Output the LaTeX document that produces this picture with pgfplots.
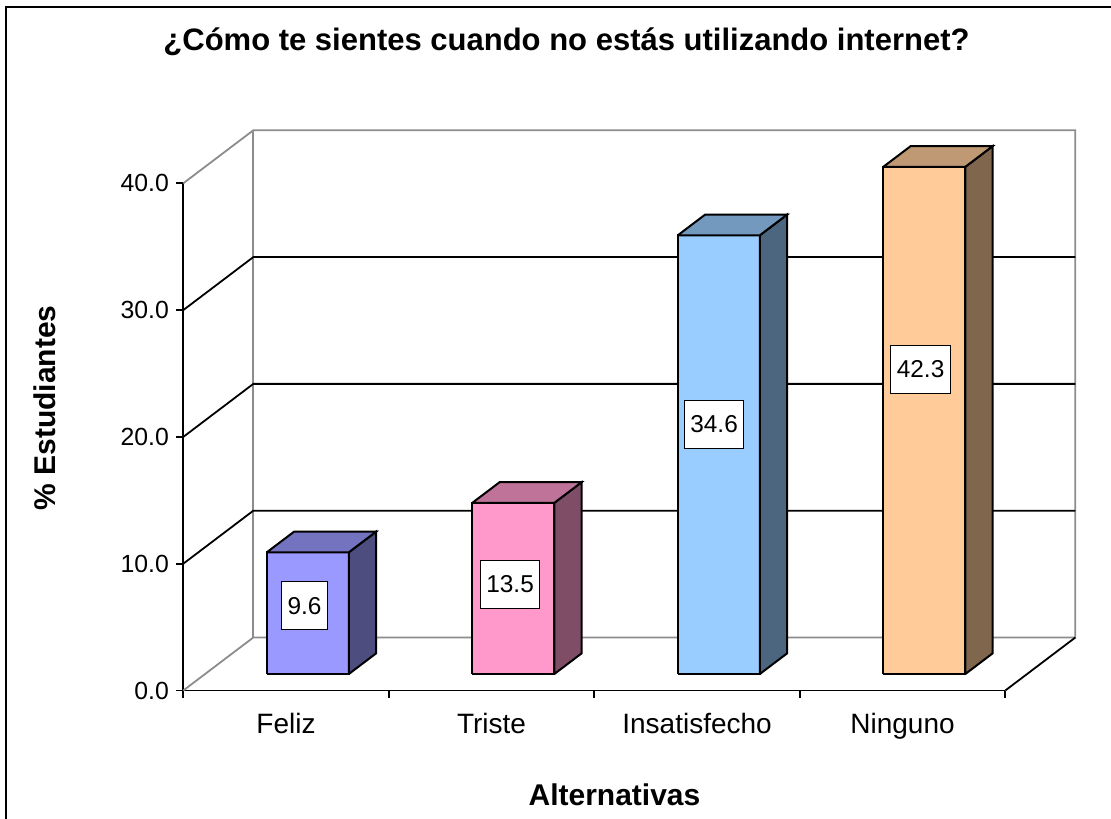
\documentclass[border=0pt]{standalone}
\usepackage{pgfplots}
\pgfplotsset{compat=1.18}
\usepackage{fontspec}
\setmainfont{Liberation Sans}
\definecolor{fF}{HTML}{9999FF}\definecolor{fT}{HTML}{7373BF}\definecolor{fS}{HTML}{4D4D80}
\definecolor{tF}{HTML}{FF99CC}\definecolor{tT}{HTML}{BF7399}\definecolor{tS}{HTML}{804D66}
\definecolor{iF}{HTML}{99CCFF}\definecolor{iT}{HTML}{7399BF}\definecolor{iS}{HTML}{4D6680}
\definecolor{nF}{HTML}{FFCC99}\definecolor{nT}{HTML}{BF9973}\definecolor{nS}{HTML}{80664D}
\definecolor{wallgray}{HTML}{8C8C8C}
\begin{document}
\begin{tikzpicture}
% front 2D axis: value axis, category labels, axis lines
\begin{axis}[
  x=0.5pt, y=6.34pt,
  xmin=0, xmax=822, ymin=0, ymax=40,
  axis lines*=left,
  axis line style={black, line width=0.9pt},
  clip=false,
  tick align=outside,
  major tick length=3.7pt,
  tick style={black, line width=0.9pt},
  /pgf/number format/assume math mode=true,
  ytick={0,10,20,30,40},
  yticklabel style={font=\fontsize{12.4}{14}\selectfont, /pgf/number format/fixed, /pgf/number format/fixed zerofill, /pgf/number format/precision=1},
  xtick={0,205.5,411,616.5,822},
  xticklabels={Feliz,Triste,Insatisfecho,Ninguno,{}},
  xticklabel style={font=\fontsize{14}{16}\selectfont, xshift=51.375pt, anchor=base, yshift=-18pt},
]
\addplot[draw=none, forget plot] coordinates {(0,0)};
\coordinate (bbSW) at (axis cs:-183.3,-10.055);
\coordinate (bbNE) at (axis cs:927.7,54.456);
\draw[line width=1.2pt] (axis cs:-177.3,-12) -- (axis cs:-177.3,53.9) -- (axis cs:940,53.9);
\node[font=\bfseries\fontsize{15.5}{17}\selectfont, anchor=base] at (axis cs:383.2,50.51) {¿Cómo te sientes cuando no estás utilizando internet?};
\node[font=\bfseries\fontsize{15}{17}\selectfont, rotate=90, anchor=center] at (axis cs:-138.3,22.28) {\% Estudiantes};
\node[font=\bfseries\fontsize{15}{17}\selectfont, anchor=base] at (axis cs:431.2,-9.03) {Alternativas};
\end{axis}
% 3D axis: walls and bars
\begin{axis}[
  x={(0.5pt,0pt)}, y={(35pt,26.5pt)}, z={(0pt,6.34pt)},
  xmin=0, xmax=822, ymin=0, ymax=1, zmin=0, zmax=40,
  hide axis, clip=false, no marks,
  every axis plot/.append style={line width=1pt, line join=miter},
]
% walls
\draw[wallgray, line width=0.9pt] (axis cs:0,0,0) -- (axis cs:0,1,0) -- (axis cs:822,1,0) -- (axis cs:822,1,40) -- (axis cs:0,1,40) -- (axis cs:0,0,40);
\draw[wallgray, line width=0.9pt] (axis cs:0,1,0) -- (axis cs:0,1,40);
\draw[black, line width=0.9pt] (axis cs:822,1,0) -- (axis cs:822,0,0);
\pgfplotsinvokeforeach{10,20,30}{
  \draw[black, line width=0.9pt] (axis cs:0,0,#1) -- (axis cs:0,1,#1) -- (axis cs:822,1,#1);
}
% Feliz 9.6
\addplot3[fill=fF, draw=black] coordinates {(61.75,0.311,0) (143.75,0.311,0) (143.75,0.311,9.6) (61.75,0.311,9.6) (61.75,0.311,0)};
\addplot3[fill=fS, draw=black] coordinates {(143.75,0.311,0) (143.75,0.70,0) (143.75,0.70,9.6) (143.75,0.311,9.6) (143.75,0.311,0)};
\addplot3[fill=fT, draw=black] coordinates {(61.75,0.311,9.6) (143.75,0.311,9.6) (143.75,0.70,9.6) (61.75,0.70,9.6) (61.75,0.311,9.6)};
% Triste 13.5
\addplot3[fill=tF, draw=black] coordinates {(267.25,0.311,0) (349.25,0.311,0) (349.25,0.311,13.5) (267.25,0.311,13.5) (267.25,0.311,0)};
\addplot3[fill=tS, draw=black] coordinates {(349.25,0.311,0) (349.25,0.70,0) (349.25,0.70,13.5) (349.25,0.311,13.5) (349.25,0.311,0)};
\addplot3[fill=tT, draw=black] coordinates {(267.25,0.311,13.5) (349.25,0.311,13.5) (349.25,0.70,13.5) (267.25,0.70,13.5) (267.25,0.311,13.5)};
% Insatisfecho 34.6
\addplot3[fill=iF, draw=black] coordinates {(472.75,0.311,0) (554.75,0.311,0) (554.75,0.311,34.6) (472.75,0.311,34.6) (472.75,0.311,0)};
\addplot3[fill=iS, draw=black] coordinates {(554.75,0.311,0) (554.75,0.70,0) (554.75,0.70,34.6) (554.75,0.311,34.6) (554.75,0.311,0)};
\addplot3[fill=iT, draw=black] coordinates {(472.75,0.311,34.6) (554.75,0.311,34.6) (554.75,0.70,34.6) (472.75,0.70,34.6) (472.75,0.311,34.6)};
% Ninguno 42.3 (cut at the axis maximum 40)
\addplot3[fill=nF, draw=black, restrict z to domain*=0:40] coordinates {(678.25,0.311,0) (760.25,0.311,0) (760.25,0.311,42.3) (678.25,0.311,42.3) (678.25,0.311,0)};
\addplot3[fill=nS, draw=black, restrict z to domain*=0:40] coordinates {(760.25,0.311,0) (760.25,0.70,0) (760.25,0.70,42.3) (760.25,0.311,42.3) (760.25,0.311,0)};
\addplot3[fill=nT, draw=black, restrict z to domain*=0:40] coordinates {(678.25,0.311,42.3) (760.25,0.311,42.3) (760.25,0.70,42.3) (678.25,0.70,42.3) (678.25,0.311,42.3)};
% data labels
\addplot3[draw=none, nodes near coords, point meta=explicit symbolic,
  nodes near coords align={center},
  every node near coord/.append style={anchor=center, fill=white, draw=black, line width=0.6pt,
    font=\fontsize{12.2}{14}\selectfont, inner xsep=3pt, inner ysep=0pt, minimum height=24pt}]
  coordinates {(99.5,0.311,5.39) [9.6] (305,0.311,7.08) [13.5] (509,0.311,19.68) [34.6] (715.5,0.311,24.04) [42.3]};
\end{axis}
\pgfresetboundingbox
\useasboundingbox (bbSW) rectangle (bbNE);
\end{tikzpicture}
\end{document}
